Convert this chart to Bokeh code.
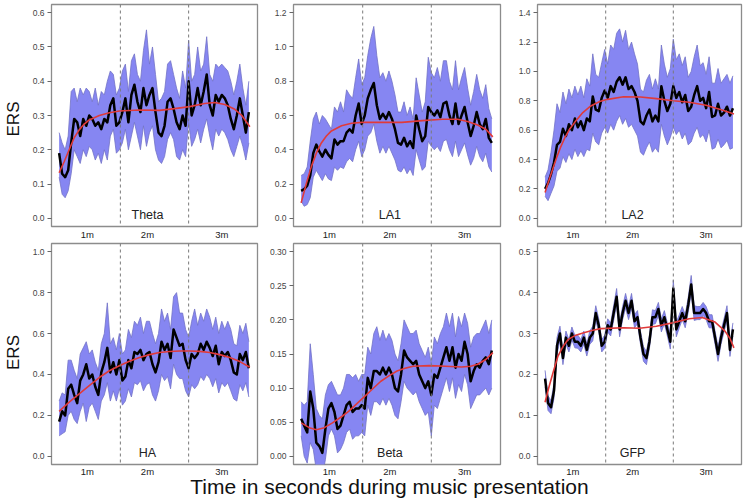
import math
from bokeh.plotting import figure
from bokeh.layouts import row, column
from bokeh.models import Range1d, FixedTicker, Span, Label, PrintfTickFormatter
from bokeh.embed import file_html
from bokeh.resources import INLINE

# ---------------- data ----------------
t = list(range(0, 190, 3))          # seconds, 64 samples
dash_times = [61, 129]
x_ticks = [28, 88, 162]
x_tick_labels = ["1m", "2m", "3m"]

theta_mean = [0.19,0.13,0.12,0.14,0.22,0.29,0.28,0.24,0.29,0.27,
 0.30,0.29,0.27,0.28,0.26,0.29,0.28,0.33,0.35,0.27,
 0.28,0.31,0.35,0.28,0.36,0.39,0.34,0.31,0.38,0.33,
 0.36,0.38,0.31,0.25,0.24,0.27,0.34,0.35,0.32,0.28,
 0.26,0.30,0.27,0.40,0.30,0.33,0.38,0.33,0.37,0.42,
 0.33,0.30,0.36,0.34,0.36,0.35,0.33,0.29,0.26,0.30,
 0.35,0.30,0.25,0.31]
theta_hi = [0.25,0.22,0.20,0.24,0.37,0.38,0.34,0.38,0.36,0.38,
 0.37,0.34,0.38,0.33,0.37,0.36,0.40,0.43,0.42,0.36,
 0.38,0.43,0.45,0.37,0.46,0.48,0.42,0.40,0.49,0.55,
 0.45,0.50,0.42,0.34,0.35,0.37,0.45,0.46,0.42,0.38,
 0.35,0.43,0.38,0.52,0.40,0.42,0.50,0.43,0.45,0.53,
 0.42,0.40,0.45,0.44,0.45,0.44,0.43,0.40,0.36,0.40,
 0.45,0.38,0.33,0.40]
theta_lo = [0.12,0.07,0.06,0.08,0.13,0.20,0.18,0.16,0.20,0.18,
 0.21,0.20,0.17,0.19,0.16,0.20,0.17,0.24,0.26,0.19,
 0.20,0.22,0.26,0.20,0.24,0.28,0.24,0.20,0.27,0.21,
 0.25,0.27,0.20,0.17,0.16,0.18,0.23,0.25,0.23,0.18,
 0.17,0.20,0.18,0.28,0.21,0.23,0.26,0.22,0.26,0.29,
 0.24,0.20,0.26,0.24,0.26,0.25,0.23,0.20,0.18,0.21,
 0.24,0.21,0.17,0.22]
theta_fit_t = [0,5,10,15,20,25,30,40,50,60,80,100,115,130,145,155,165,175,182,190]
theta_fit = [0.133,0.165,0.20,0.235,0.258,0.275,0.287,0.30,0.308,0.313,0.316,0.315,0.32,0.326,0.335,0.338,0.332,0.318,0.30,0.267]
theta_ticks = [0.0,0.1,0.2,0.3,0.4,0.5,0.6]

la1_mean = [0.16,0.17,0.19,0.25,0.38,0.43,0.39,0.36,0.40,0.37,
 0.35,0.46,0.43,0.45,0.45,0.50,0.52,0.50,0.60,0.67,
 0.55,0.60,0.70,0.75,0.79,0.66,0.58,0.61,0.58,0.62,
 0.58,0.52,0.44,0.43,0.47,0.42,0.45,0.41,0.60,0.52,
 0.45,0.48,0.65,0.62,0.60,0.63,0.59,0.67,0.68,0.60,
 0.55,0.67,0.55,0.60,0.65,0.56,0.48,0.54,0.62,0.55,
 0.52,0.58,0.47,0.44]
la1_hi = [0.25,0.26,0.30,0.45,0.58,0.62,0.55,0.60,0.58,0.55,
 0.52,0.65,0.62,0.68,0.62,0.75,0.72,0.70,0.82,0.93,
 0.78,0.82,0.95,1.05,1.12,0.95,0.82,0.85,0.80,0.86,
 0.80,0.72,0.62,0.62,0.68,0.60,0.65,0.58,0.82,0.72,
 0.62,0.68,0.94,0.85,0.82,0.88,0.80,0.92,0.92,0.80,
 0.75,0.92,0.75,0.82,0.88,0.76,0.66,0.74,0.84,0.75,
 0.70,0.78,0.64,0.58]
la1_lo = [0.10,0.07,0.08,0.12,0.24,0.28,0.25,0.22,0.26,0.23,
 0.22,0.30,0.28,0.30,0.29,0.33,0.35,0.33,0.40,0.45,
 0.36,0.40,0.48,0.50,0.55,0.45,0.38,0.42,0.38,0.42,
 0.38,0.34,0.28,0.27,0.30,0.26,0.29,0.25,0.40,0.34,
 0.28,0.30,0.45,0.42,0.40,0.42,0.39,0.45,0.46,0.40,
 0.36,0.45,0.36,0.40,0.44,0.37,0.31,0.35,0.42,0.36,
 0.33,0.38,0.30,0.27]
la1_fit_t = [0,5,10,15,20,25,30,40,50,60,80,100,120,140,155,165,175,183,190]
la1_fit = [0.09,0.20,0.30,0.38,0.44,0.48,0.51,0.54,0.555,0.56,0.56,0.56,0.57,0.578,0.578,0.565,0.545,0.52,0.475]
la1_ticks = [0.0,0.2,0.4,0.6,0.8,1.0,1.2]

la2_mean = [0.20,0.24,0.30,0.38,0.50,0.52,0.61,0.56,0.64,0.60,
 0.68,0.62,0.66,0.60,0.68,0.66,0.83,0.74,0.73,0.82,
 0.87,0.82,0.90,0.86,0.93,0.96,0.91,0.96,0.88,0.90,
 0.86,0.80,0.66,0.64,0.70,0.74,0.66,0.70,0.66,0.90,
 0.80,0.73,0.78,0.90,0.82,0.86,0.79,0.84,0.73,0.76,
 0.84,0.90,0.80,0.82,0.75,0.86,0.69,0.70,0.78,0.70,
 0.72,0.76,0.70,0.75]
la2_hi = [0.28,0.33,0.45,0.60,0.78,0.72,0.86,0.78,0.88,0.82,
 0.90,0.84,0.90,0.82,0.95,0.90,1.12,0.98,0.96,1.06,
 1.15,1.05,1.18,1.15,1.26,1.29,1.20,1.28,1.15,1.20,
 1.12,1.05,0.88,0.86,0.94,0.98,0.88,0.95,0.88,1.18,
 1.05,0.96,1.02,1.22,1.08,1.12,1.04,1.10,0.96,1.00,
 1.10,1.18,1.04,1.06,0.98,1.10,0.92,0.92,1.02,0.92,
 0.95,0.98,0.92,0.97]
la2_lo = [0.15,0.12,0.17,0.22,0.32,0.34,0.42,0.38,0.44,0.40,
 0.47,0.42,0.46,0.42,0.47,0.46,0.58,0.52,0.50,0.58,
 0.62,0.58,0.64,0.60,0.66,0.70,0.64,0.68,0.62,0.64,
 0.60,0.56,0.45,0.43,0.48,0.52,0.45,0.48,0.45,0.64,
 0.56,0.50,0.55,0.62,0.57,0.60,0.54,0.58,0.50,0.52,
 0.58,0.62,0.55,0.57,0.52,0.60,0.47,0.48,0.54,0.48,
 0.50,0.53,0.47,0.48]
la2_fit_t = [0,4,8,12,16,20,25,30,38,46,55,63,79,96,112,129,145,162,178,190]
la2_fit = [0.175,0.26,0.34,0.42,0.49,0.55,0.61,0.655,0.72,0.765,0.795,0.81,0.828,0.826,0.815,0.80,0.79,0.77,0.738,0.71]
la2_ticks = [0.0,0.2,0.4,0.6,0.8,1.0,1.2,1.4]

ha_mean = [0.17,0.22,0.20,0.33,0.35,0.30,0.26,0.37,0.40,0.45,
 0.38,0.40,0.34,0.30,0.41,0.46,0.53,0.41,0.46,0.40,
 0.47,0.37,0.39,0.47,0.43,0.51,0.50,0.52,0.47,0.50,
 0.51,0.45,0.41,0.46,0.56,0.52,0.55,0.48,0.62,0.58,
 0.54,0.55,0.47,0.43,0.50,0.48,0.50,0.55,0.52,0.56,
 0.53,0.49,0.54,0.45,0.51,0.49,0.51,0.47,0.41,0.40,
 0.50,0.47,0.51,0.43]
ha_hi = [0.27,0.31,0.30,0.47,0.47,0.42,0.38,0.50,0.53,0.56,
 0.50,0.52,0.46,0.42,0.55,0.60,0.75,0.55,0.58,0.52,
 0.60,0.50,0.52,0.62,0.58,0.66,0.64,0.68,0.60,0.66,
 0.66,0.60,0.55,0.60,0.72,0.66,0.70,0.62,0.78,0.80,
 0.70,0.70,0.62,0.58,0.66,0.72,0.64,0.70,0.66,0.72,
 0.68,0.62,0.68,0.60,0.66,0.62,0.66,0.62,0.55,0.54,
 0.64,0.60,0.65,0.56]
ha_lo = [0.10,0.11,0.12,0.20,0.22,0.18,0.16,0.22,0.26,0.17,
 0.24,0.26,0.22,0.18,0.27,0.30,0.36,0.27,0.32,0.27,
 0.33,0.25,0.27,0.33,0.29,0.36,0.35,0.37,0.32,0.35,
 0.36,0.30,0.27,0.32,0.40,0.37,0.39,0.33,0.45,0.40,
 0.38,0.38,0.32,0.29,0.35,0.33,0.35,0.39,0.37,0.40,
 0.38,0.34,0.38,0.31,0.36,0.34,0.36,0.32,0.28,0.27,
 0.35,0.32,0.36,0.29]
ha_fit_t = [0,10,20,30,40,50,60,70,80,90,100,110,120,130,140,150,160,170,180,190]
ha_fit = [0.22,0.265,0.305,0.345,0.385,0.418,0.443,0.465,0.483,0.497,0.507,0.512,0.515,0.515,0.513,0.507,0.497,0.483,0.463,0.435]
ha_ticks = [0.0,0.2,0.4,0.6,0.8,1.0]

beta_mean = [0.055,0.045,0.035,0.095,0.07,0.02,0.015,0.005,0.04,0.07,
 0.078,0.065,0.04,0.045,0.06,0.075,0.08,0.065,0.07,0.07,
 0.075,0.07,0.115,0.10,0.125,0.125,0.12,0.13,0.12,0.13,
 0.12,0.10,0.095,0.12,0.155,0.145,0.14,0.135,0.14,0.12,
 0.11,0.10,0.11,0.09,0.12,0.115,0.13,0.145,0.16,0.14,
 0.16,0.13,0.15,0.14,0.168,0.15,0.11,0.125,0.135,0.13,
 0.14,0.145,0.135,0.155]
beta_hi = [0.08,0.075,0.08,0.165,0.12,0.07,0.06,0.055,0.09,0.105,
 0.11,0.10,0.09,0.09,0.10,0.12,0.12,0.115,0.12,0.11,
 0.12,0.12,0.16,0.15,0.18,0.19,0.17,0.185,0.17,0.18,
 0.17,0.15,0.14,0.165,0.20,0.19,0.18,0.18,0.185,0.165,
 0.155,0.145,0.16,0.135,0.175,0.165,0.18,0.19,0.21,0.19,
 0.21,0.175,0.205,0.19,0.21,0.195,0.16,0.175,0.18,0.18,
 0.19,0.20,0.18,0.20]
beta_lo = [0.03,0.0,-0.01,0.02,0.01,-0.02,-0.02,-0.03,-0.005,0.03,
 0.04,0.03,0.005,0.01,0.02,0.035,0.04,0.025,0.03,0.03,
 0.035,0.03,0.075,0.06,0.08,0.08,0.075,0.085,0.075,0.085,
 0.075,0.06,0.055,0.08,0.11,0.10,0.095,0.09,0.095,0.08,
 0.07,0.06,0.065,0.03,0.075,0.07,0.085,0.10,0.115,0.095,
 0.115,0.085,0.105,0.095,0.12,0.105,0.07,0.08,0.09,0.09,
 0.095,0.10,0.09,0.10]
beta_fit_t = [0,8,15,23,31,40,47,55,63,71,79,87,95,103,111,127,143,159,168,175,183,190]
beta_fit = [0.049,0.042,0.039,0.042,0.049,0.058,0.066,0.077,0.088,0.099,0.11,0.118,0.125,0.129,0.132,0.133,0.132,0.131,0.132,0.135,0.142,0.152]
beta_ticks = [0.00,0.05,0.10,0.15,0.20,0.25,0.30]

gfp_mean = [0.19,0.13,0.12,0.16,0.27,0.30,0.24,0.29,0.27,0.30,
 0.28,0.28,0.27,0.29,0.26,0.29,0.30,0.35,0.32,0.27,
 0.28,0.32,0.31,0.35,0.39,0.31,0.35,0.38,0.35,0.38,
 0.33,0.34,0.29,0.25,0.24,0.28,0.34,0.34,0.36,0.32,
 0.34,0.31,0.28,0.41,0.31,0.33,0.35,0.33,0.37,0.42,
 0.35,0.35,0.35,0.36,0.35,0.33,0.33,0.29,0.25,0.29,
 0.32,0.35,0.26,0.31]
gfp_half = [0.02,0.018,0.016,0.018,0.02,0.018,0.016,0.016,0.015,0.016,
 0.015,0.016,0.015,0.016,0.015,0.016,0.018,0.018,0.016,0.015,
 0.016,0.016,0.016,0.018,0.02,0.018,0.016,0.018,0.016,0.018,
 0.016,0.016,0.016,0.018,0.016,0.016,0.018,0.016,0.016,0.016,
 0.016,0.016,0.018,0.02,0.018,0.016,0.016,0.016,0.018,0.022,
 0.018,0.016,0.016,0.016,0.016,0.016,0.016,0.016,0.018,0.016,
 0.016,0.018,0.016,0.016]
gfp_hi = [m + h for m, h in zip(gfp_mean, gfp_half)]
gfp_lo = [m - h for m, h in zip(gfp_mean, gfp_half)]
gfp_fit_t = [0,4,8,13,18,23,30,39,48,56,79,95,112,128,145,158,171,181,186,190]
gfp_fit = [0.132,0.17,0.204,0.245,0.268,0.285,0.295,0.302,0.308,0.312,0.314,0.313,0.318,0.326,0.336,0.339,0.328,0.306,0.288,0.265]
gfp_ticks = [0.0,0.1,0.2,0.3,0.4,0.5]

# ---------------- styling ----------------
FONT = "Liberation Sans"
BAND = "#8686f2"
EDGE = "#7272c6"
RED = "#e03a3a"
X0, X1 = -7.6, 197.6


def make_panel(name, mean, lo, hi, fit_t, fit, yticks, fmt, fw, fh, bl, br, bt, bb, xstand):
    span = yticks[-1] - yticks[0]
    r0 = yticks[0] - 0.04 * span
    r1 = yticks[-1] + 0.04 * span
    p = figure(frame_width=fw, frame_height=fh,
               x_range=Range1d(X0, X1), y_range=Range1d(r0, r1),
               output_backend="svg", toolbar_location=None,
               min_border_left=bl, min_border_right=br,
               min_border_top=bt, min_border_bottom=bb)
    p.xgrid.visible = False
    p.ygrid.visible = False
    p.outline_line_color = "#8c8c8c"
    p.outline_line_width = 1.3
    p.background_fill_color = "white"
    p.border_fill_color = "white"

    p.varea(x=t, y1=lo, y2=hi, fill_color=BAND, fill_alpha=1.0)
    p.line(t, hi, line_color=EDGE, line_width=0.8)
    p.line(t, lo, line_color=EDGE, line_width=0.8)
    p.line(t, mean, line_color="black", line_width=2.5, line_join="round")
    p.line(fit_t, fit, line_color=RED, line_width=1.6)
    for d in dash_times:
        p.add_layout(Span(location=d, dimension="height", line_color="#7a7a7a",
                          line_dash="3 3", line_width=1))
    p.add_layout(Label(x=x_ticks[1], y=r0 + 0.05 * (r1 - r0), text=name,
                       text_align="center", text_baseline="middle",
                       text_font=FONT, text_font_size="12.5px", text_color="#222222"))

    xa = p.xaxis[0]
    xa.ticker = FixedTicker(ticks=x_ticks)
    xa.major_label_overrides = {float(k): v for k, v in zip(x_ticks, x_tick_labels)}
    xa.axis_line_color = None
    xa.major_tick_line_color = None
    xa.major_tick_out = 0
    xa.major_tick_in = 0
    xa.minor_tick_line_color = None
    xa.minor_tick_out = 0
    xa.major_label_standoff = xstand
    xa.major_label_text_font = FONT
    xa.major_label_text_font_size = "9.5px"
    xa.major_label_text_color = "#222222"

    ya = p.yaxis[0]
    ya.ticker = FixedTicker(ticks=yticks)
    ya.formatter = PrintfTickFormatter(format=fmt)
    ya.axis_line_color = None
    ya.major_tick_out = 4
    ya.major_tick_in = 0
    ya.major_tick_line_color = "#666666"
    ya.minor_tick_line_color = None
    ya.major_label_standoff = 3
    ya.major_label_text_font = FONT
    ya.major_label_text_font_size = "8.5px"
    ya.major_label_text_color = "#444444"
    return p


def text_fig(w, h, txt, x, y, size, angle=0.0, **kw):
    p = figure(frame_width=w, frame_height=h, x_range=Range1d(0, w), y_range=Range1d(0, h),
               output_backend="svg", toolbar_location=None,
               x_axis_location=None, y_axis_location=None,
               min_border_left=0, min_border_right=0, min_border_top=0, min_border_bottom=0, **kw)
    p.grid.visible = False
    p.outline_line_color = None
    p.background_fill_alpha = 0
    p.border_fill_alpha = 0
    p.add_layout(Label(x=x, y=y, text=txt, angle=angle, text_align="center",
                       text_baseline="middle", text_font=FONT, text_font_size=size,
                       text_color="#111111"))
    return p


TOP_H, BOT_H = 222, 221
f1 = make_panel("Theta", theta_mean, theta_lo, theta_hi, theta_fit_t, theta_fit, theta_ticks, "%.1f", 206, TOP_H, 27, 6, 4, 13, 2)
f2 = make_panel("LA1", la1_mean, la1_lo, la1_hi, la1_fit_t, la1_fit, la1_ticks, "%.1f", 207, TOP_H, 30, 6, 4, 13, 2)
f3 = make_panel("LA2", la2_mean, la2_lo, la2_hi, la2_fit_t, la2_fit, la2_ticks, "%.1f", 204, TOP_H, 31, 3, 4, 13, 2)
f4 = make_panel("HA", ha_mean, ha_lo, ha_hi, ha_fit_t, ha_fit, ha_ticks, "%.1f", 206, BOT_H, 27, 6, 1, 12, 1)
f5 = make_panel("Beta", beta_mean, beta_lo, beta_hi, beta_fit_t, beta_fit, beta_ticks, "%.2f", 207, BOT_H, 30, 6, 1, 12, 1)
f6 = make_panel("GFP", gfp_mean, gfp_lo, gfp_hi, gfp_fit_t, gfp_fit, gfp_ticks, "%.1f", 204, BOT_H, 31, 3, 1, 12, 1)

ers_top = text_fig(24, 4 + TOP_H + 13, "ERS", 13, 124.5, "17px", math.pi / 2)
ers_bot = text_fig(24, 1 + BOT_H + 12, "ERS", 13, 125, "17px", math.pi / 2)
xtitle = text_fig(744, 40, "Time in seconds during music presentation", 389, 23.5, "21px",
                  margin=(-10, 0, 0, 0))

layout = column(row(ers_top, f1, f2, f3), row(ers_bot, f4, f5, f6), xtitle)

open("out.html", "w").write(file_html(layout, INLINE))
